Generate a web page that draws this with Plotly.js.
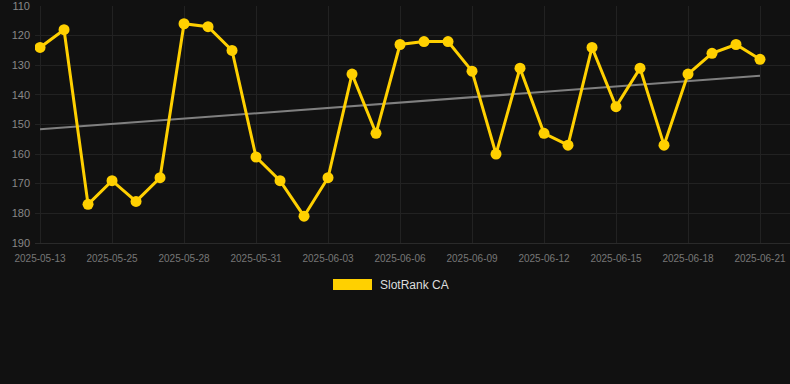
<!DOCTYPE html>
<html><head><meta charset="utf-8">
<script src="https://cdn.plot.ly/plotly-3.0.1.min.js"></script>
<style>html,body{margin:0;padding:0;background:#111111;}#chart{width:790px;height:384px;}</style>
</head><body><div id="chart"></div>
<script>
const dates = ["2025-05-13","2025-05-23","2025-05-24","2025-05-25","2025-05-26","2025-05-27","2025-05-28","2025-05-29","2025-05-30","2025-05-31","2025-06-01","2025-06-02","2025-06-03","2025-06-04","2025-06-05","2025-06-06","2025-06-07","2025-06-08","2025-06-09","2025-06-10","2025-06-11","2025-06-12","2025-06-13","2025-06-14","2025-06-15","2025-06-16","2025-06-17","2025-06-18","2025-06-19","2025-06-20","2025-06-21"];
const ranks = [124,118,177,169,176,168,116,117,125,161,169,181,168,133,153,123,122,122,132,160,131,153,157,124,144,131,157,133,126,123,128];
const tickDates = ["2025-05-13","2025-05-25","2025-05-28","2025-05-31","2025-06-03","2025-06-06","2025-06-09","2025-06-12","2025-06-15","2025-06-18","2025-06-21"];
const yTicks = [110,120,130,140,150,160,170,180,190];
const seriesName = "SlotRank CA";

// linear trend (least squares) from the data
const n = ranks.length;
let sx=0, sy=0, sxy=0, sxx=0;
ranks.forEach((v,i)=>{sx+=i; sy+=v; sxy+=i*v; sxx+=i*i;});
const slope = (n*sxy - sx*sy)/(n*sxx - sx*sx);
const icpt = (sy - slope*sx)/n;
const trend = [icpt, icpt + slope*(n-1)];

const traces = [
  {x:[dates[0], dates[n-1]], y:trend, type:'scatter', mode:'lines',
   line:{color:'#808080', width:2}, showlegend:false, hoverinfo:'skip'},
  {x:dates, y:ranks, type:'scatter', mode:'lines+markers', name:seriesName,
   line:{color:'#FFD000', width:3}, marker:{color:'#FFD000', size:11}, showlegend:false}
];

const layout = {
  width:790, height:384,
  paper_bgcolor:'#111111', plot_bgcolor:'#111111',
  margin:{l:35, r:0, t:6, b:141},
  font:{family:'"Liberation Sans", Arial, sans-serif', color:'#888888'},
  xaxis:{type:'category', categoryorder:'array', categoryarray:dates,
    range:[-0.21, 31.25], tickmode:'array', tickvals:tickDates, ticktext:tickDates,
    showgrid:true, gridcolor:'#222222', gridwidth:1, zeroline:false,
    showline:true, linecolor:'#2a2a2a', ticks:'outside', ticklen:6, tickcolor:'rgba(0,0,0,0)',
    tickfont:{size:10, color:'#777777'}},
  yaxis:{range:[190.05, 110], tickvals:yTicks, ticklabeloverflow:'allow',
    showgrid:true, gridcolor:'#222222', gridwidth:1, zeroline:false,
    ticks:'', ticklabelstandoff:4, tickfont:{size:11, color:'#888888'}},
  showlegend:false,
  shapes:[{type:'rect', xref:'paper', yref:'paper', x0:(333-35)/755, x1:(372-35)/755,
    y0:(384-141-290)/237, y1:(384-141-279)/237, fillcolor:'#FFD000', line:{width:0}}],
  annotations:[{xref:'paper', yref:'paper', x:(378-35)/755, y:(384-141-284.5)/237,
    xanchor:'left', yanchor:'middle', text:seriesName, showarrow:false,
    font:{size:12, color:'#dddddd'}}]
};
Plotly.newPlot('chart', traces, layout, {displayModeBar:false, staticPlot:true});
</script></body></html>
